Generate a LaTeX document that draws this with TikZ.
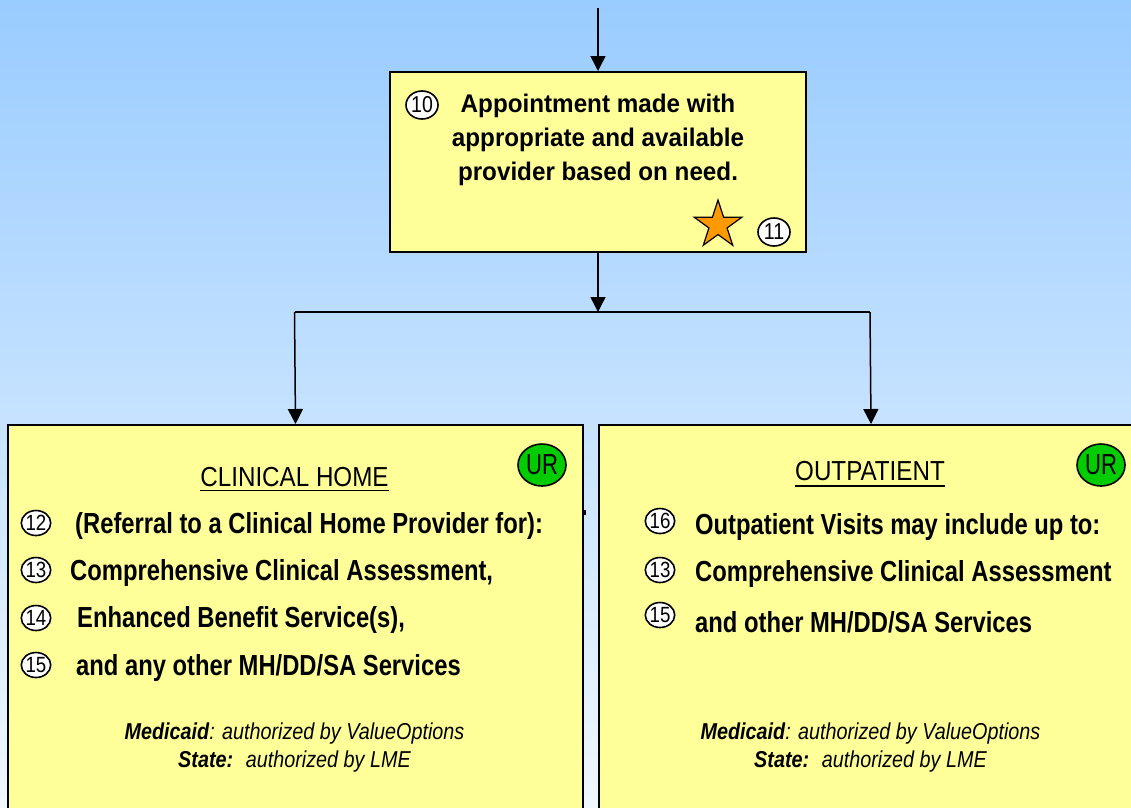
\documentclass[tikz,border=0pt]{standalone}
\usepackage{fontspec}
\setmainfont{Liberation Sans}
\newfontfamily\ftop{Liberation Sans}[FakeStretch=0.95]
\newfontfamily\flist{Liberation Sans}[FakeStretch=0.82]
\newfontfamily\ftitle{Liberation Sans}[FakeStretch=0.88]
\newfontfamily\fnote{Liberation Sans}[FakeStretch=0.86]
\newfontfamily\fnum{Liberation Sans}[FakeStretch=0.85]
\newfontfamily\fur{Liberation Sans}[FakeStretch=0.76]
\usetikzlibrary{shapes.geometric,arrows.meta}
\definecolor{bgtop}{HTML}{99CCFF}
\definecolor{bgbot}{HTML}{F0F7FF}
\definecolor{boxy}{HTML}{FFFF99}
\definecolor{urgreen}{HTML}{00CC00}
\definecolor{starorange}{HTML}{FF9900}
\begin{document}
\begin{tikzpicture}[x=1pt,y=-1pt,
  box/.style={draw=black,fill=boxy,line width=2pt,rectangle,inner sep=0pt},
  conn/.style={line width=1.5pt,draw=black},
  arr/.style={conn,-{Triangle[width=15pt,length=15pt]}},
  cnum/.style={ellipse,draw=black,line width=1.6pt,fill=white,inner sep=0pt,minimum width=28pt,minimum height=25pt,font=\fnum\fontsize{22}{22}\selectfont},
  cnumtop/.style={cnum,minimum width=32pt,minimum height=28pt,font=\fnum\fontsize{23}{23}\selectfont},
  urmark/.style={ellipse,draw=black,line width=1.6pt,fill=urgreen,inner sep=0pt,minimum width=48pt,minimum height=42pt,font=\fur\fontsize{29}{29}\selectfont},
  toptext/.style={anchor=base,inner sep=0pt,font=\ftop\bfseries\fontsize{25.5}{30}\selectfont},
  item/.style={anchor=base west,inner sep=0pt,font=\flist\bfseries\fontsize{29}{32}\selectfont},
  title/.style={anchor=base,inner sep=0pt,font=\ftitle\fontsize{27.5}{30}\selectfont},
  note/.style={anchor=base,inner sep=0pt,font=\fnote\itshape\fontsize{23}{26}\selectfont},
  uline/.style={line width=1.6pt,draw=black}
]
\useasboundingbox (0,0) rectangle (1131,807);
\clip (0,0) rectangle (1131,807);
\shade[top color=bgtop,bottom color=bgbot] (0,0) rectangle (1131,807);

% boxes
\node[box,minimum width=416pt,minimum height=180pt] (apt) at (598,162) {};
\node[box,minimum width=575pt,minimum height=400pt,anchor=north west] (ch) at (7,424) {};
\node[box,minimum width=544pt,minimum height=400pt,anchor=north west] (op) at (598,424) {};
\fill (582,510) rectangle (585.5,515);

% connectors
\coordinate (start) at (598,8);
\coordinate (j) at (598,312);
\coordinate (jl) at (294.5,312);
\coordinate (jr) at (870,312);
\draw[arr] (start) -- (apt.north);
\draw[arr] (apt.south) -- (j);
\draw[conn] (jl) -- (jr);
\draw[arr] (jl) -- (ch.north);
\draw[arr] (jr) -- (op.north);

% top box content
\node[cnumtop] (n10) at (422,105) {10};
\node[toptext] (t1) at (598,112) {Appointment made with};
\node[toptext] (t2) at (598,146) {appropriate and available};
\node[toptext] (t3) at (598,180) {provider based on need.};
\node[star,star points=5,star point ratio=2.618,minimum size=50pt,inner sep=0pt,draw=black,line width=1.2pt,fill=starorange] (star) at (718,225) {};
\node[cnumtop] (n11) at (774,232) {11};

% clinical home
\node[urmark] (ur1) at (542,465) {UR};
\node[title] (tch) at (294.5,486) {CLINICAL HOME};
\draw[uline] ([yshift=-4.5pt]tch.base west) -- ([yshift=-4.5pt]tch.base east);
\node[cnum] (n12) at (36,523) {12};
\node[item] (l12) at (75,533) {(Referral to a Clinical Home Provider for):};
\node[cnum] (n13a) at (36,570) {13};
\node[item] (l13) at (70,580) {Comprehensive Clinical Assessment,};
\node[cnum] (n14) at (36,618) {14};
\node[item] (l14) at (77,627) {Enhanced Benefit Service(s),};
\node[cnum] (n15a) at (36,665) {15};
\node[item] (l15) at (76,675) {and any other MH/DD/SA Services};
\node[note] (m1) at (294.5,739) {\textbf{Medicaid}: authorized by ValueOptions};
\node[note] (s1) at (294.5,767) {\textbf{State:}\hspace{0.55em}authorized by LME};

% outpatient
\node[urmark] (ur2) at (1101,465) {UR};
\node[title] (top) at (870,480) {OUTPATIENT};
\draw[uline] ([yshift=-6pt]top.base west) -- ([yshift=-6pt]top.base east);
\node[cnum] (n16) at (660,521) {16};
\node[item] (o16) at (695,534) {Outpatient Visits may include up to:};
\node[cnum] (n13b) at (660,570) {13};
\node[item] (o13) at (695,581) {Comprehensive Clinical Assessment};
\node[cnum] (n15b) at (660,615) {15};
\node[item] (o15) at (695,632) {and other MH/DD/SA Services};
\node[note] (m2) at (870.5,739) {\textbf{Medicaid}: authorized by ValueOptions};
\node[note] (s2) at (870.5,767) {\textbf{State:}\hspace{0.55em}authorized by LME};
\end{tikzpicture}
\end{document}
